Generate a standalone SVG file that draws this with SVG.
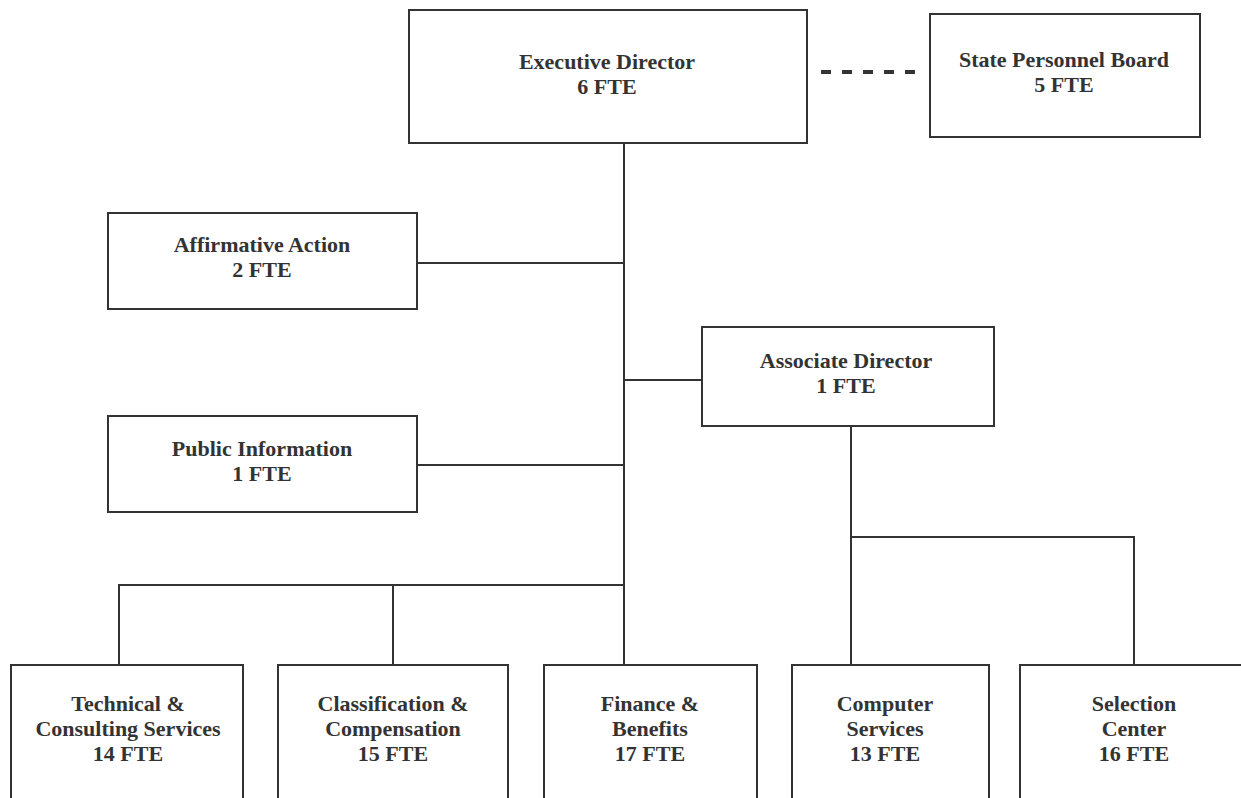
<svg xmlns="http://www.w3.org/2000/svg" width="1241" height="798" viewBox="0 0 1241 798">
<style>
.box{fill:#fff;stroke:#333;stroke-width:2}
.ln{stroke:#333;stroke-width:2;fill:none}
.dash{stroke:#333;stroke-width:4;stroke-dasharray:10 11;fill:none}
text{font-family:"Liberation Serif","Times New Roman",serif;font-weight:bold;font-size:22px;fill:#333;text-anchor:middle}
</style>
<rect width="1241" height="798" fill="#fff"/>
<g id="connectors">
<line class="ln" x1="624" y1="143" x2="624" y2="665"/>
<line class="ln" x1="417" y1="263" x2="624" y2="263"/>
<line class="ln" x1="417" y1="465" x2="624" y2="465"/>
<line class="ln" x1="624" y1="380" x2="702" y2="380"/>
<polyline class="ln" points="119,665 119,585 624,585"/>
<line class="ln" x1="393" y1="585" x2="393" y2="665"/>
<line class="ln" x1="851" y1="426" x2="851" y2="665"/>
<polyline class="ln" points="851,537 1134,537 1134,665"/>
<line class="dash" x1="821" y1="72" x2="918" y2="72"/>
</g>
<g id="exec">
<rect class="box" x="409" y="10" width="398" height="133"/>
<text x="607" y="69">Executive Director</text>
<text x="607" y="94">6 FTE</text>
</g>
<g id="board">
<rect class="box" x="930" y="14" width="270" height="123"/>
<text x="1064" y="67">State Personnel Board</text>
<text x="1064" y="92">5 FTE</text>
</g>
<g id="affirmative">
<rect class="box" x="108" y="213" width="309" height="96"/>
<text x="262" y="252">Affirmative Action</text>
<text x="262" y="277">2 FTE</text>
</g>
<g id="public">
<rect class="box" x="108" y="416" width="309" height="96"/>
<text x="262" y="456">Public Information</text>
<text x="262" y="481">1 FTE</text>
</g>
<g id="associate">
<rect class="box" x="702" y="327" width="292" height="99"/>
<text x="846" y="368">Associate Director</text>
<text x="846" y="393">1 FTE</text>
</g>
<g id="technical">
<rect class="box" x="11" y="665" width="232" height="150"/>
<text x="128" y="711">Technical  &amp;</text>
<text x="128" y="736">Consulting Services</text>
<text x="128" y="761">14 FTE</text>
</g>
<g id="classification">
<rect class="box" x="278" y="665" width="230" height="150"/>
<text x="393" y="711">Classification &amp;</text>
<text x="393" y="736">Compensation</text>
<text x="393" y="761">15 FTE</text>
</g>
<g id="finance">
<rect class="box" x="544" y="665" width="213" height="150"/>
<text x="650" y="711">Finance &amp;</text>
<text x="650" y="736">Benefits</text>
<text x="650" y="761">17 FTE</text>
</g>
<g id="computer">
<rect class="box" x="792" y="665" width="197" height="150"/>
<text x="885" y="711">Computer</text>
<text x="885" y="736">Services</text>
<text x="885" y="761">13  FTE</text>
</g>
<g id="selection">
<rect class="box" x="1020" y="665" width="240" height="150"/>
<text x="1134" y="711">Selection</text>
<text x="1134" y="736">Center</text>
<text x="1134" y="761">16 FTE</text>
</g>
</svg>
